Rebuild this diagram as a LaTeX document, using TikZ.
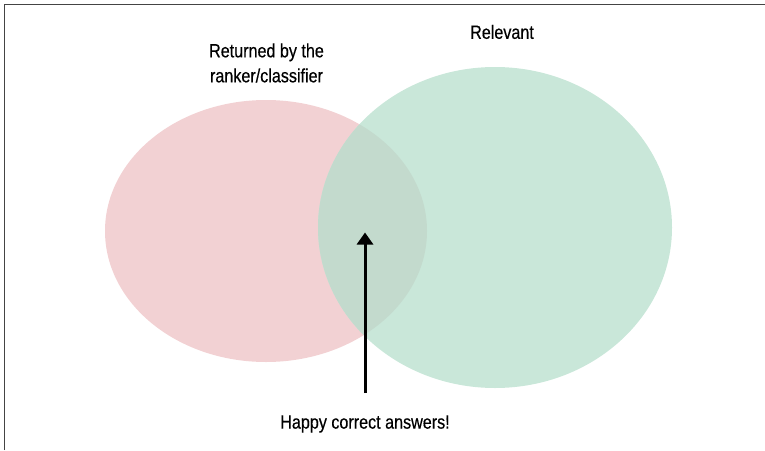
\documentclass[tikz,border=0pt]{standalone}
\usepackage{fontspec}
\setmainfont{Liberation Sans}[FakeStretch=0.84, FakeBold=0.4]
\usetikzlibrary{positioning,arrows.meta,shapes.geometric}
\definecolor{rankpink}{HTML}{F2D1D3}
\definecolor{relgreen}{HTML}{C9E7D9}
\definecolor{bothmix}{HTML}{C3DACD}
\definecolor{framegray}{HTML}{444444}
\tikzset{
	vennset/.style={ellipse, inner sep=0pt},
	settext/.style={inner sep=0pt, align=center, font=\fontsize{9.6}{12.5}\selectfont},
}

\begin{document}
\begin{tikzpicture}[x=0.5pt, y=-0.5pt]
	\useasboundingbox (0,0) rectangle (765,450);
	\draw [framegray, line width=0.9pt] (4.5,450) -- (4.5,4.5) -- (765,4.5);

	\node [vennset, fill=rankpink, minimum width=161pt, minimum height=131pt] (ranked) at (266,231) {};
	\node [vennset, fill=relgreen, minimum width=177pt, minimum height=160.5pt] (relevant) at (495,227.5) {};
	\begin{scope}
		\clip (ranked.center) ellipse [x radius=80.5pt, y radius=65.5pt];
		\fill [bothmix] (relevant.center) ellipse [x radius=88.5pt, y radius=80.25pt];
	\end{scope}

	\node [settext, anchor=north] (rankedtext) at (266.5,43) {Returned by the\\ranker/classifier};
	\node [settext, anchor=north] (relevanttext) at (502,24.5) {Relevant};

	\coordinate (tip) at (365,232.5);
	\coordinate [below=80.25pt of tip] (tail);
	\node [settext, below=11pt of tail] (happy) {Happy correct answers!};
	\draw [line width=1.5pt, -{Triangle[width=8pt, length=6pt]}] (tail) -- (tip);
\end{tikzpicture}
\end{document}
